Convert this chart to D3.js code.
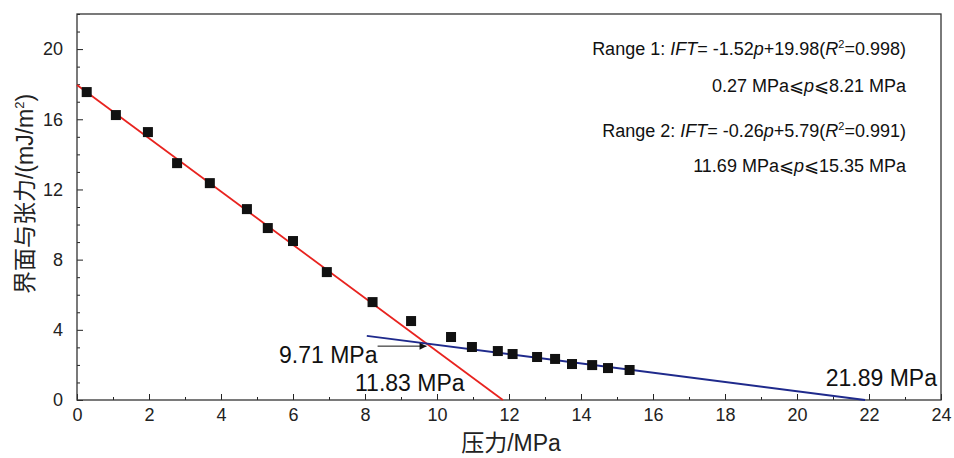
<!DOCTYPE html>
<html>
<head>
<meta charset="utf-8">
<script src="https://cdn.jsdelivr.net/npm/d3@7"></script>
<style>
  body { margin: 0; background: #fff; }
  svg { font-family: "Liberation Sans", Arial, "Noto Sans CJK SC", sans-serif; }
  .tick text { font-size: 18px; fill: #222; }
</style>
</head>
<body>
<svg width="954" height="458"></svg>
<script>
// measured points: pressure (MPa) vs interfacial tension (mJ/m2)
var pressure = [0.27, 1.08, 1.97, 2.78, 3.69, 4.72, 5.30, 6.00, 6.94, 8.21, 9.28,
  10.39, 10.97, 11.69, 12.10, 12.78, 13.28, 13.75, 14.31, 14.75, 15.35];
var ift = [17.55, 16.24, 15.27, 13.50, 12.36, 10.88, 9.80, 9.06, 7.29, 5.58, 4.50,
  3.59, 3.02, 2.79, 2.62, 2.45, 2.34, 2.05, 1.99, 1.82, 1.71];

// fitted lines as drawn (end points)
var fit1 = [[0, 17.95], [11.83, 0]];
var fit2 = [[8.05, 3.66], [21.89, 0]];

var xTicks = [0, 2, 4, 6, 8, 10, 12, 14, 16, 18, 20, 22, 24];
var yTicks = [0, 4, 8, 12, 16, 20];

var svg = d3.select('svg');
var plotL = 77, plotR = 941, plotT = 14, plotB = 400;

var x = d3.scaleLinear().domain([0, 24]).range([plotL, plotR]);
var y = d3.scaleLinear().domain([0, 22]).range([plotB, plotT]);

// minor ticks
svg.append('g')
  .attr('transform', `translate(0,${plotB})`)
  .call(d3.axisTop(x).tickValues(d3.range(1, 24, 2)).tickSize(3).tickFormat(''))
  .call(g => g.select('.domain').remove());
svg.append('g')
  .attr('transform', `translate(${plotL},0)`)
  .call(d3.axisRight(y).tickValues(d3.range(0, 23).filter(v => v % 4)).tickSize(3).tickFormat(''))
  .call(g => g.select('.domain').remove());

// major ticks, inward
var xAxis = svg.append('g')
  .attr('transform', `translate(0,${plotB})`)
  .call(d3.axisTop(x).tickValues(xTicks).tickSize(6).tickFormat(d3.format('d')));
xAxis.selectAll('.tick text').attr('y', 8).attr('dy', '0.71em');
xAxis.select('.domain').remove();

var yAxis = svg.append('g')
  .attr('transform', `translate(${plotL},0)`)
  .call(d3.axisRight(y).tickValues(yTicks).tickSize(6).tickFormat(d3.format('d')));
yAxis.selectAll('.tick text').attr('x', -14).attr('text-anchor', 'end');
yAxis.select('.domain').remove();

svg.selectAll('.tick line').attr('stroke', '#222');

// frame
svg.append('rect')
  .attr('x', plotL).attr('y', plotT)
  .attr('width', plotR - plotL).attr('height', plotB - plotT)
  .attr('fill', 'none').attr('stroke', '#333').attr('stroke-width', 1.3);

var line = d3.line().x(d => x(d[0])).y(d => y(d[1]));

svg.append('path').datum(fit1).attr('d', line)
  .attr('stroke', '#e8231f').attr('stroke-width', 1.8).attr('fill', 'none');
svg.append('path').datum(fit2).attr('d', line)
  .attr('stroke', '#1f2a8c').attr('stroke-width', 1.8).attr('fill', 'none');

// data squares
var s = 10;
svg.append('g').selectAll('rect')
  .data(pressure)
  .join('rect')
  .attr('x', (d) => x(d) - s / 2)
  .attr('y', (d, i) => y(ift[i]) - s / 2)
  .attr('width', s).attr('height', s)
  .attr('fill', '#111');

// arrow to intersection
svg.append('defs').append('marker')
  .attr('id', 'arrow').attr('viewBox', '0 0 10 10')
  .attr('refX', 10).attr('refY', 5)
  .attr('markerWidth', 10).attr('markerHeight', 7)
  .attr('markerUnits', 'userSpaceOnUse')
  .attr('orient', 'auto')
  .append('path').attr('d', 'M0,0L10,5L0,10z').attr('fill', '#111');

svg.append('line')
  .attr('x1', x(8.35)).attr('y1', y(3.07))
  .attr('x2', x(9.71)).attr('y2', y(3.07))
  .attr('stroke', '#111').attr('stroke-width', 1)
  .attr('marker-end', 'url(#arrow)');

var ann = [
  { t: '9.71 MPa', xx: 279, yy: 363, anchor: 'start' },
  { t: '11.83 MPa', xx: 355, yy: 391, anchor: 'start' },
  { t: '21.89 MPa', xx: 937, yy: 386, anchor: 'end' }
];
svg.selectAll('.ann').data(ann).join('text')
  .attr('class', 'ann')
  .attr('x', d => d.xx).attr('y', d => d.yy)
  .attr('text-anchor', d => d.anchor)
  .attr('font-size', 23).attr('fill', '#111')
  .text(d => d.t);

// fit equations
var eq = svg.append('g').attr('font-size', 18).attr('fill', '#111').attr('text-anchor', 'end');
var t1 = eq.append('text').attr('x', 906).attr('y', 55);
t1.append('tspan').text('Range 1: ');
t1.append('tspan').attr('font-style', 'italic').text('IFT');
t1.append('tspan').text('= -1.52');
t1.append('tspan').attr('font-style', 'italic').text('p');
t1.append('tspan').text('+19.98(');
t1.append('tspan').attr('font-style', 'italic').text('R');
t1.append('tspan').attr('font-size', 11).attr('dy', -7).text('2');
t1.append('tspan').attr('dy', 7).text('=0.998)');

var t2 = eq.append('text').attr('x', 906).attr('y', 92);
t2.append('tspan').text('0.27 MPa⩽');
t2.append('tspan').attr('font-style', 'italic').text('p');
t2.append('tspan').text('⩽8.21 MPa');

var t3 = eq.append('text').attr('x', 906).attr('y', 137);
t3.append('tspan').text('Range 2: ');
t3.append('tspan').attr('font-style', 'italic').text('IFT');
t3.append('tspan').text('= -0.26');
t3.append('tspan').attr('font-style', 'italic').text('p');
t3.append('tspan').text('+5.79(');
t3.append('tspan').attr('font-style', 'italic').text('R');
t3.append('tspan').attr('font-size', 11).attr('dy', -7).text('2');
t3.append('tspan').attr('dy', 7).text('=0.991)');

var t4 = eq.append('text').attr('x', 906).attr('y', 172);
t4.append('tspan').text('11.69 MPa⩽');
t4.append('tspan').attr('font-style', 'italic').text('p');
t4.append('tspan').text('⩽15.35 MPa');

// axis titles
svg.append('text')
  .attr('x', 511).attr('y', 451)
  .attr('text-anchor', 'middle').attr('font-size', 23).attr('fill', '#222')
  .text('压力/MPa');

var yl = svg.append('text')
  .attr('transform', 'translate(33,194) rotate(-90)')
  .attr('text-anchor', 'middle').attr('font-size', 23).attr('fill', '#222');
yl.append('tspan').text('界面与张力/(mJ/m');
yl.append('tspan').attr('font-size', 13).attr('dy', -9).text('2');
yl.append('tspan').attr('dy', 9).text(')');
</script>
</body>
</html>
